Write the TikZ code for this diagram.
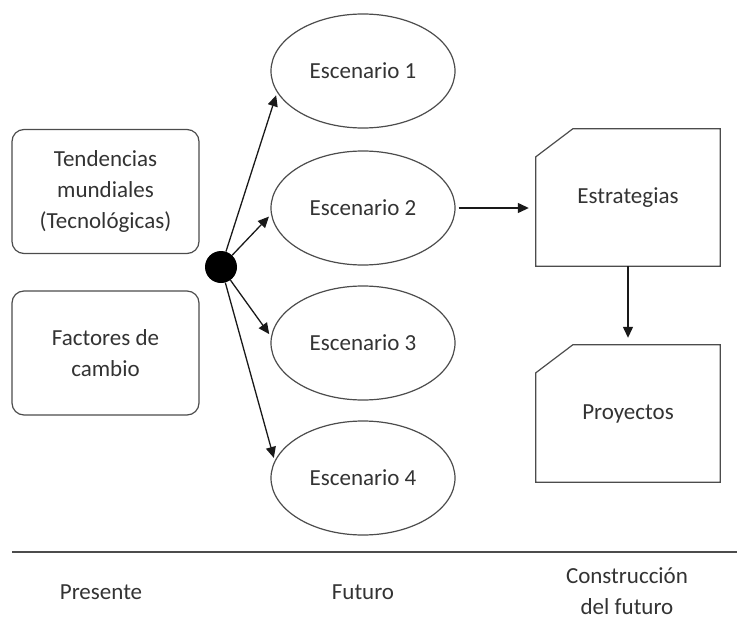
\documentclass[tikz,border=0pt]{standalone}
\usepackage{fontspec}
\setmainfont{Carlito}
\usepackage{tikz}
\usetikzlibrary{positioning,calc,arrows.meta,shapes.geometric}

\begin{document}
\begin{tikzpicture}[x=1pt, y=-1pt,
  texto/.style={font=\fontsize{23}{31}\selectfont, text=black!80, align=center},
  caja/.style={texto, draw=black!70, line width=1.2pt, rounded corners=12pt, minimum width=187pt, minimum height=124pt},
  escenario/.style={texto, ellipse, draw=black!70, line width=1.2pt, minimum width=184pt, minimum height=114pt, inner sep=0pt},
  tarjeta/.style={texto, minimum width=184pt, minimum height=137pt, inner sep=0pt},
  borde/.style={draw=black!70, line width=1.2pt},
  flecha/.style={-{Triangle[length=11pt, width=10pt]}, line width=1.3pt, black!90}]

	% Marco de la figura
	\useasboundingbox (0,0) rectangle (737,624);
	
	% Cajas de la izquierda
	\node[caja] (tend) at (105.5,191.5) {Tendencias\\mundiales\\(Tecnológicas)};
	\node[caja] (fact) at (105.5,353) {Factores de\\cambio};
	
	% Punto negro
	\node[circle, fill=black, minimum size=32pt, inner sep=0pt] (nodo) at (221,267) {};
	
	% --- ESCENARIOS ---
	\foreach \i/\y in {1/71, 2/208, 3/343, 4/478} {
		\node[escenario] (esc\i) at (363,\y) {Escenario \i};
	}
	
	% Flechas desde el punto
	\foreach \i/\a in {1/194, 2/184, 3/176, 4/169} {
		\draw[flecha, shorten >=3pt] (nodo) -- (esc\i.\a);
	}
	
	% --- ESTRATEGIAS Y PROYECTOS ---
	\node[tarjeta] (estr) at (628,197.5) {Estrategias};
	\node[tarjeta] (proy) at (628,413.5) {Proyectos};
	
	% Contorno con la esquina cortada
	\foreach \n in {estr, proy} {
		\draw[borde] (\n.south west) -- (\n.south east) -- (\n.north east)
		-- ([xshift=37pt]\n.north west) -- ([yshift=-28pt]\n.north west) -- cycle;
	}
	
	\draw[flecha, shorten <=3pt, shorten >=7pt] (esc2.east) -- (esc2.east -| estr.west);
	\draw[flecha, shorten >=7pt] (estr.south) -- (proy.north);
	
	% --- LINEA Y ETIQUETAS DE ABAJO ---
	\coordinate (izq) at (12,552);
	\coordinate (der) at (737,552);
	\draw[line width=1.8pt, black!70] (izq) -- (der);
	
	\node[texto] (presente) at (101,592) {Presente};
	\node[texto] (futuro) at (363,592) {Futuro};
	\node[texto] (constr) at (627,591) {Construcción\\del futuro};
	
\end{tikzpicture}
\end{document}
